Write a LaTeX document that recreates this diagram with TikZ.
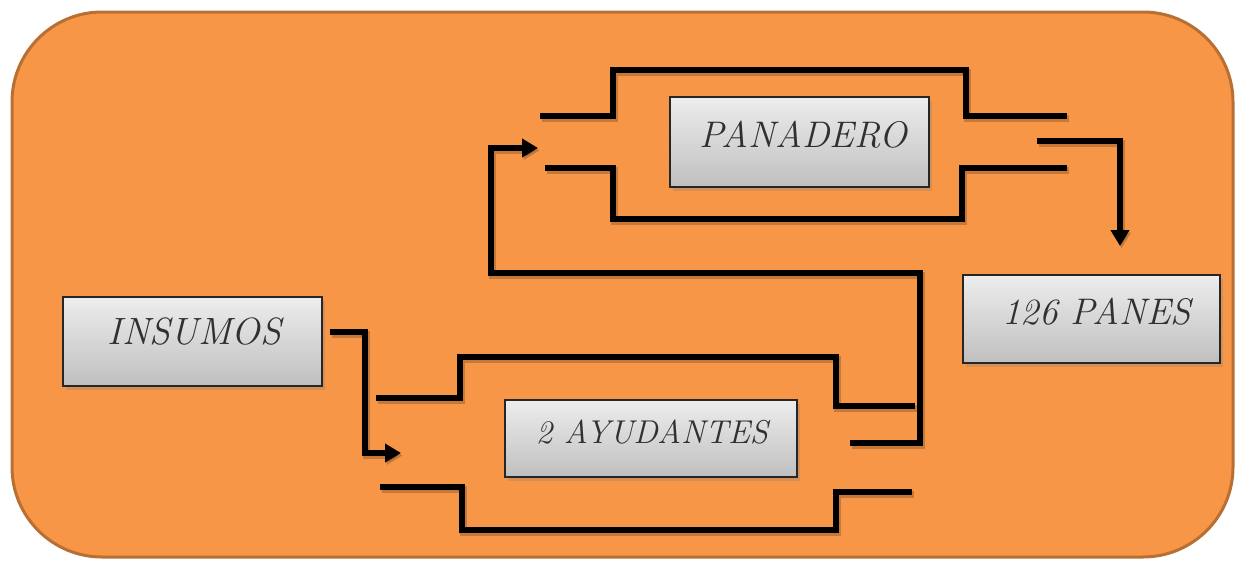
\documentclass[tikz,border=0pt]{standalone}
\usepackage{fontspec}
\usetikzlibrary{shadows,arrows.meta}
\definecolor{bg}{HTML}{F79646}
\definecolor{bgline}{HTML}{B86F33}
\definecolor{txt}{HTML}{303030}
\newcommand\chfont[1]{\fontsize{#1}{#1}\selectfont\itshape}
\tikzset{
  box/.style={draw=black!85, line width=1.8pt, top color=black!7, bottom color=black!25,
    drop shadow={opacity=0.3, shadow xshift=2.5pt, shadow yshift=-3.5pt}, inner sep=0pt},
  lbl/.style={text=txt, inner sep=0pt},
  pipe/.style={line width=6pt, line join=miter, miter limit=10,
    preaction={draw=black, opacity=0.2, line width=6.5pt, transform canvas={shift={(1.5pt,-2.5pt)}}}},
  flow/.style={pipe, -{Triangle[length=16pt,width=18pt]}}
}
\begin{document}
\begin{tikzpicture}[x=1pt,y=-1pt]
\useasboundingbox (0,0) rectangle (1236,560);
\draw[bgline, fill=bg, line width=3pt, rounded corners=90pt] (12,12) rectangle (1233,557);

% boxes
\node[box, minimum width=259pt, minimum height=90pt] (pan) at (799.5,142) {};
\node[box, minimum width=259pt, minimum height=89pt] (ins) at (192.5,341.5) {};
\node[box, minimum width=292pt, minimum height=77pt] (ayu) at (651,438.5) {};
\node[box, minimum width=257pt, minimum height=88pt] (pns) at (1091.5,319) {};

\node[lbl, font=\chfont{37}] (panT) at ([xshift=4pt,yshift=7pt]pan.center) {PANADERO};
\node[lbl, font=\chfont{38}] (insT) at ([xshift=2pt,yshift=10pt]ins.center) {INSUMOS};
\node[lbl, font=\chfont{33}] (ayuT) at ([xshift=1pt,yshift=6pt]ayu.center) {2 AYUDANTES};
\node[lbl, font=\chfont{37}] (pnsT) at ([xshift=5pt,yshift=7pt]pns.center) {126 PANES};

% pipes around PANADERO
\draw[pipe] (540,116) -- (613,116) -- (613,70) -- (966,70) -- (966,116) -- (1067,116);
\draw[pipe] (545,168) -- (613,168) -- (613,219) -- (962,219) -- (962,168) -- (1067,168);
% pipes around AYUDANTES
\draw[pipe] (376,398) -- (460,398) -- (460,357) -- (836,357) -- (836,406) -- (915,406);
\draw[pipe] (380,487) -- (462,487) -- (462,530) -- (836,530) -- (836,492) -- (912,492);

% connectors
\coordinate (insOut) at (330,332);
\coordinate (ayuIn) at (401,453);
\coordinate (ayuOut) at (850,443);
\coordinate (panIn) at (538,148);
\coordinate (panOut) at (1037,141);
\coordinate (pnsIn) at (1120,246);

\draw[flow] (insOut) -- (365,332) -- (365,453) -- (ayuIn);
\draw[flow] (ayuOut) -- (920,443) -- (920,273) -- (491,273) -- (491,148) -- (panIn);
\draw[flow] (panOut) -- (1120,141) -- (pnsIn);
\end{tikzpicture}
\end{document}
